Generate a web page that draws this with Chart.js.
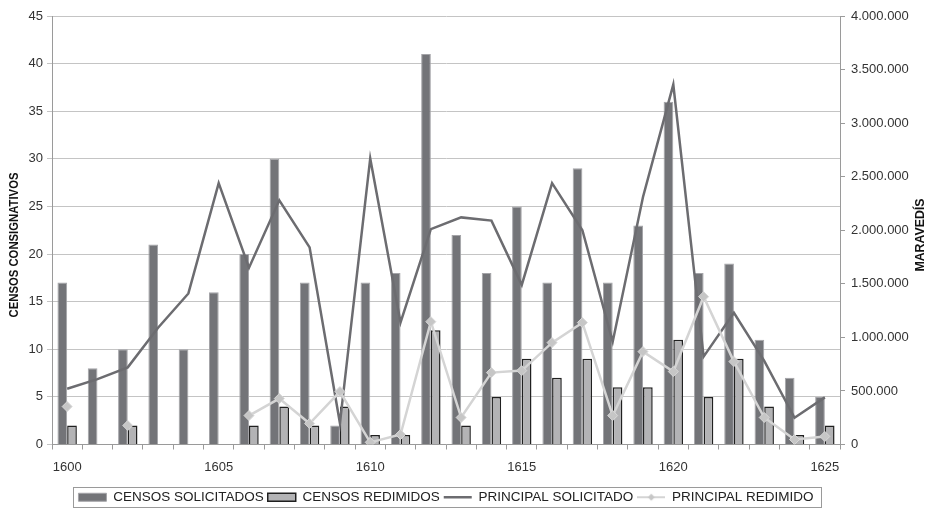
<!DOCTYPE html>
<html>
<head>
<meta charset="utf-8">
<script src="https://cdn.jsdelivr.net/npm/chart.js@4.4.1/dist/chart.umd.min.js"></script>
<style>
  html, body { margin: 0; padding: 0; background: #fff; }
  #wrap { width: 927px; height: 508px; }
</style>
</head>
<body>
<div id="wrap"><canvas id="censosChart" width="927" height="508"></canvas></div>
<script>
// años 1600-1625
const years = [1600, 1601, 1602, 1603, 1604, 1605, 1606, 1607, 1608, 1609, 1610, 1611, 1612,
               1613, 1614, 1615, 1616, 1617, 1618, 1619, 1620, 1621, 1622, 1623, 1624, 1625];

const censosSolicitados = [17, 8, 10, 21, 10, 16, 20, 30, 17, 2, 17, 18, 41,
                           22, 18, 25, 17, 29, 17, 23, 36, 18, 19, 11, 7, 5];

const censosRedimidos = [2, 0, 2, 0, 0, 0, 2, 4, 2, 4, 1, 1, 12,
                         2, 5, 9, 7, 9, 6, 6, 11, 5, 9, 4, 1, 2];

// maravedís
const principalSolicitado = [520000, 610000, 720000, 1090000, 1410000, 2440000, 1650000, 2280000,
                             1840000, 200000, 2670000, 1140000, 2010000, 2120000, 2090000, 1490000,
                             2440000, 2000000, 960000, 2310000, 3360000, 820000, 1230000, 780000,
                             250000, 440000];

const principalRedimido = [354000, null, 177000, null, null, null, 270000, 429000, 196000, 494000,
                           20000, 93000, 1147000, 252000, 671000, 690000, 951000, 1138000, 270000,
                           867000, 681000, 1380000, 774000, 252000, 47000, 75000];

const leftTicks = { min: 0, max: 45, step: 5 };
const rightTicks = { min: 0, max: 4000000, step: 500000 };

const fontMain = "'Liberation Sans', Arial, sans-serif";

function formatMaravedis(v) {
    return String(v).replace(/\B(?=(\d{3})+(?!\d))/g, '.');
}

// icono de la leyenda: línea con rombo
const iconRedimido = document.createElement('canvas');
iconRedimido.width = 28;
iconRedimido.height = 10;
(function () {
    const c = iconRedimido.getContext('2d');
    c.strokeStyle = '#d4d4d4';
    c.lineWidth = 2;
    c.beginPath();
    c.moveTo(0, 5);
    c.lineTo(28, 5);
    c.stroke();
    c.fillStyle = '#c6c6c6';
    c.beginPath();
    c.moveTo(14, 1.5);
    c.lineTo(17.5, 5);
    c.lineTo(14, 8.5);
    c.lineTo(10.5, 5);
    c.closePath();
    c.fill();
})();

// títulos de los ejes y marco de la leyenda
const extrasPlugin = {
    id: 'extras',
    afterDraw(chart) {
        const ctx = chart.ctx;
        ctx.save();
        ctx.fillStyle = '#111';
        ctx.font = "bold 13px " + fontMain;
        ctx.textAlign = 'center';
        ctx.textBaseline = 'middle';

        ctx.save();
        ctx.translate(14, 245);
        ctx.rotate(-Math.PI / 2);
        ctx.scale(0.87, 1);
        ctx.fillText('CENSOS CONSIGNATIVOS', 0, 0);
        ctx.restore();

        ctx.save();
        ctx.translate(920, 235);
        ctx.rotate(-Math.PI / 2);
        ctx.scale(0.95, 1);
        ctx.fillText('MARAVEDÍS', 0, 0);
        ctx.restore();

        const lg = chart.legend;
        if (lg && lg.legendHitBoxes && lg.legendHitBoxes.length) {
            const boxes = lg.legendHitBoxes;
            const l = Math.min(...boxes.map(b => b.left)) - 5;
            const r = Math.max(...boxes.map(b => b.left + b.width)) + 8;
            const cy = boxes[0].top + boxes[0].height / 2;
            ctx.strokeStyle = '#9a9a9a';
            ctx.lineWidth = 1;
            ctx.strokeRect(Math.round(l) + 0.5, Math.round(cy - 10) + 0.5, Math.round(r - l), 20);
        }
        ctx.restore();
    }
};

const ctx = document.getElementById('censosChart').getContext('2d');
const censosChart = new Chart(ctx, {
    type: 'bar',
    data: {
        labels: years,
        datasets: [{
            label: 'CENSOS SOLICITADOS',
            data: censosSolicitados,
            backgroundColor: '#737478',
            borderColor: '#a4a4a8',
            borderWidth: 1,
            pointStyle: 'rect',
            yAxisID: 'y',
            order: 2
        }, {
            label: 'CENSOS REDIMIDOS',
            data: censosRedimidos,
            backgroundColor: '#b3b3b5',
            borderColor: '#202020',
            borderWidth: 1.5,
            pointStyle: 'rect',
            yAxisID: 'y',
            order: 2
        }, {
            type: 'line',
            label: 'PRINCIPAL SOLICITADO',
            data: principalSolicitado,
            borderColor: '#6c6c70',
            backgroundColor: '#6c6c70',
            borderWidth: 2.5,
            pointRadius: 0,
            pointStyle: 'line',
            tension: 0,
            yAxisID: 'y1',
            order: 1
        }, {
            type: 'line',
            label: 'PRINCIPAL REDIMIDO',
            data: principalRedimido,
            borderColor: '#d4d4d4',
            backgroundColor: '#c6c6c6',
            borderWidth: 2.5,
            pointStyle: 'rectRot',
            pointRadius: 5,
            pointBorderColor: '#d8d8d8',
            pointBackgroundColor: '#c6c6c6',
            pointBorderWidth: 1,
            spanGaps: false,
            tension: 0,
            yAxisID: 'y1',
            order: 0
        }]
    },
    options: {
        responsive: false,
        animation: false,
        layout: { padding: { top: 16, left: 0, right: 0, bottom: -6 } },
        datasets: {
            bar: { categoryPercentage: 0.64, barPercentage: 1 }
        },
        plugins: {
            tooltip: { enabled: false },
            legend: {
                position: 'bottom',
                fullSize: false,
                labels: {
                    usePointStyle: true,
                    pointStyleWidth: 28,
                    boxHeight: 8,
                    padding: 4,
                    color: '#222',
                    font: { family: fontMain, size: 13.5 },
                    sort: (a, b) => a.datasetIndex - b.datasetIndex,
                    generateLabels: function (chart) {
                        const items = Chart.defaults.plugins.legend.labels.generateLabels(chart);
                        items.forEach(it => {
                            if (it.datasetIndex === 3) {
                                it.pointStyle = iconRedimido;
                            }
                        });
                        return items;
                    }
                }
            }
        },
        scales: {
            x: {
                offset: true,
                afterFit: (scale) => { scale.height = 42; },
                grid: {
                    offset: true,
                    drawOnChartArea: false,
                    drawTicks: true,
                    tickLength: 5,
                    color: '#9a9a9a'
                },
                border: { color: '#9a9a9a' },
                ticks: {
                    autoSkip: false,
                    maxRotation: 0,
                    padding: 10,
                    color: '#333',
                    font: { family: fontMain, size: 13 },
                    callback: function (value, index) {
                        const y = years[index];
                        return y % 5 === 0 ? String(y) : '';
                    }
                }
            },
            y: {
                position: 'left',
                min: leftTicks.min,
                max: leftTicks.max,
                afterFit: (scale) => { scale.width = 52; },
                grid: { color: '#c4c4c4', tickLength: 5 },
                border: { color: '#9a9a9a' },
                ticks: {
                    stepSize: leftTicks.step,
                    padding: 4,
                    color: '#333',
                    font: { family: fontMain, size: 13 }
                }
            },
            y1: {
                position: 'right',
                min: rightTicks.min,
                max: rightTicks.max,
                afterFit: (scale) => { scale.width = 87; },
                grid: { drawOnChartArea: false, color: '#9a9a9a', tickLength: 5 },
                border: { color: '#9a9a9a' },
                ticks: {
                    stepSize: rightTicks.step,
                    padding: 6,
                    color: '#333',
                    font: { family: fontMain, size: 13 },
                    callback: (v) => formatMaravedis(v)
                }
            }
        }
    },
    plugins: [extrasPlugin]
});
</script>
</body>
</html>
